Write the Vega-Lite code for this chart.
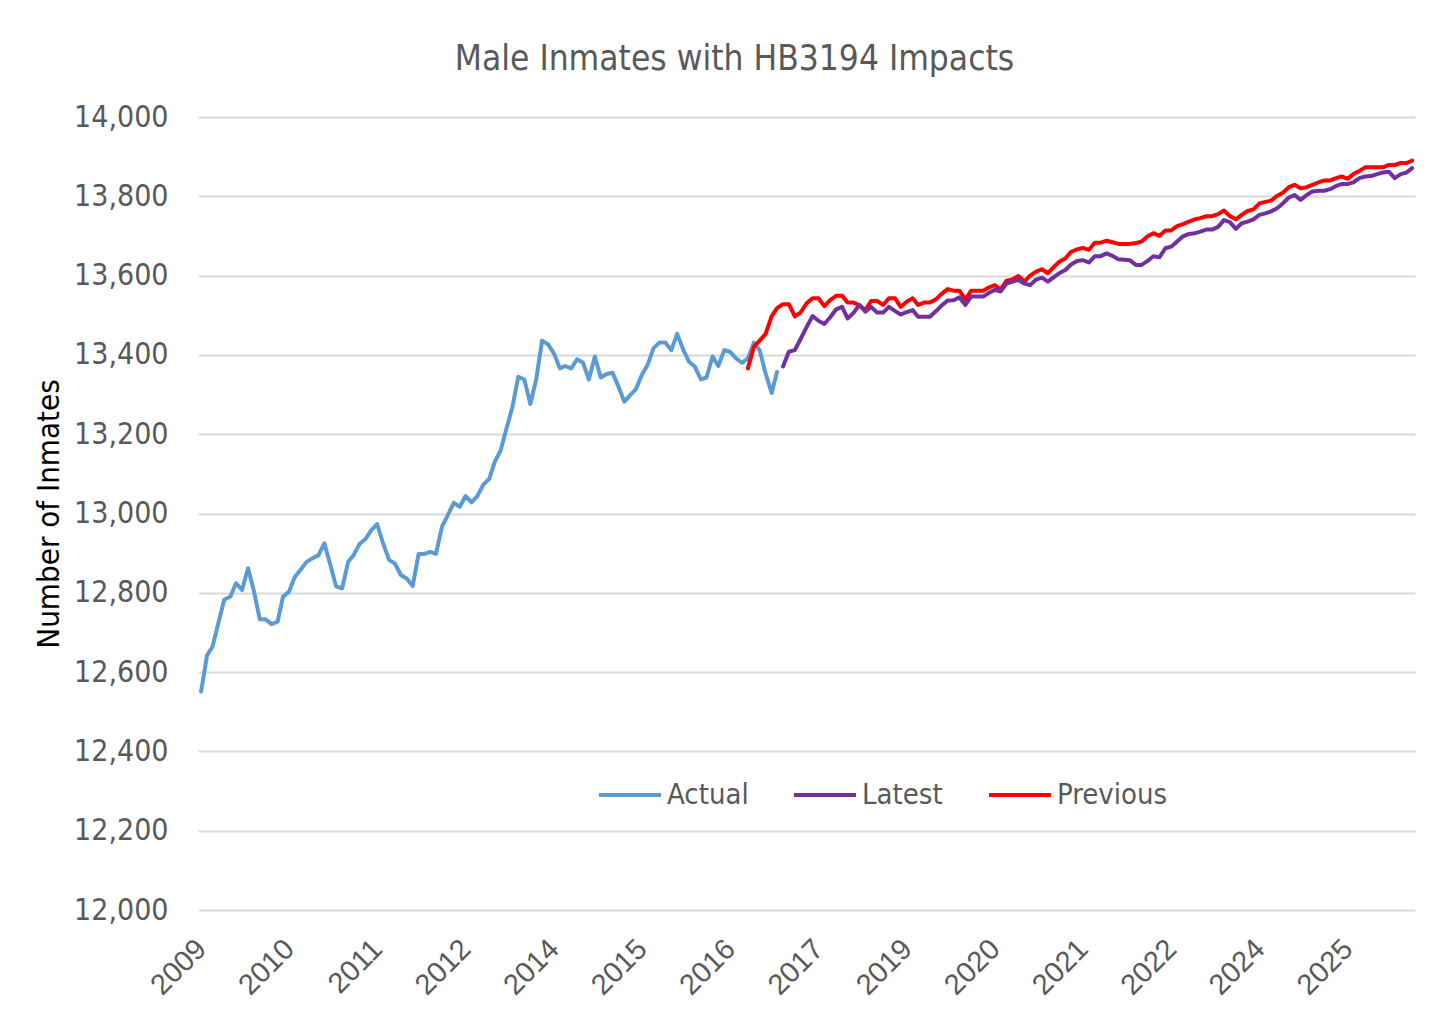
{
  "$schema": "https://vega.github.io/schema/vega-lite/v6.json",
  "width": 1217,
  "height": 793,
  "autosize": {"type": "none"},
  "padding": {"left": 198, "top": 117, "right": 41, "bottom": 123},
  "background": "white",
  "title": {
    "text": "Male Inmates with HB3194 Impacts",
    "font": "DejaVu Sans Condensed, sans-serif",
    "fontSize": 35,
    "fontWeight": "normal",
    "color": "#595959",
    "anchor": "middle",
    "frame": "group",
    "dx": -72,
    "dy": 48,
    "baseline": "bottom",
    "offset": 38
  },
  "config": {
    "view": {"stroke": null},
    "axis": {"domain": false, "ticks": false, "tickSize": 0}
  },
  "data": {
    "values": [
      {"date": "2009-01-01", "series": "Actual", "value": 12551},
      {"date": "2009-02-01", "series": "Actual", "value": 12643},
      {"date": "2009-03-01", "series": "Actual", "value": 12664},
      {"date": "2009-04-01", "series": "Actual", "value": 12725},
      {"date": "2009-05-01", "series": "Actual", "value": 12783},
      {"date": "2009-06-01", "series": "Actual", "value": 12790},
      {"date": "2009-07-01", "series": "Actual", "value": 12824},
      {"date": "2009-08-01", "series": "Actual", "value": 12807},
      {"date": "2009-09-01", "series": "Actual", "value": 12862},
      {"date": "2009-10-01", "series": "Actual", "value": 12805},
      {"date": "2009-11-01", "series": "Actual", "value": 12733},
      {"date": "2009-12-01", "series": "Actual", "value": 12733},
      {"date": "2010-01-01", "series": "Actual", "value": 12721},
      {"date": "2010-02-01", "series": "Actual", "value": 12727},
      {"date": "2010-03-01", "series": "Actual", "value": 12790},
      {"date": "2010-04-01", "series": "Actual", "value": 12803},
      {"date": "2010-05-01", "series": "Actual", "value": 12840},
      {"date": "2010-06-01", "series": "Actual", "value": 12859},
      {"date": "2010-07-01", "series": "Actual", "value": 12878},
      {"date": "2010-08-01", "series": "Actual", "value": 12887},
      {"date": "2010-09-01", "series": "Actual", "value": 12895},
      {"date": "2010-10-01", "series": "Actual", "value": 12925},
      {"date": "2010-11-01", "series": "Actual", "value": 12870},
      {"date": "2010-12-01", "series": "Actual", "value": 12816},
      {"date": "2011-01-01", "series": "Actual", "value": 12811},
      {"date": "2011-02-01", "series": "Actual", "value": 12878},
      {"date": "2011-03-01", "series": "Actual", "value": 12895},
      {"date": "2011-04-01", "series": "Actual", "value": 12923},
      {"date": "2011-05-01", "series": "Actual", "value": 12935},
      {"date": "2011-06-01", "series": "Actual", "value": 12958},
      {"date": "2011-07-01", "series": "Actual", "value": 12973},
      {"date": "2011-08-01", "series": "Actual", "value": 12925},
      {"date": "2011-09-01", "series": "Actual", "value": 12883},
      {"date": "2011-10-01", "series": "Actual", "value": 12874},
      {"date": "2011-11-01", "series": "Actual", "value": 12845},
      {"date": "2011-12-01", "series": "Actual", "value": 12836},
      {"date": "2012-01-01", "series": "Actual", "value": 12817},
      {"date": "2012-02-01", "series": "Actual", "value": 12898},
      {"date": "2012-03-01", "series": "Actual", "value": 12898},
      {"date": "2012-04-01", "series": "Actual", "value": 12903},
      {"date": "2012-05-01", "series": "Actual", "value": 12898},
      {"date": "2012-06-01", "series": "Actual", "value": 12967},
      {"date": "2012-07-01", "series": "Actual", "value": 12996},
      {"date": "2012-08-01", "series": "Actual", "value": 13027},
      {"date": "2012-09-01", "series": "Actual", "value": 13017},
      {"date": "2012-10-01", "series": "Actual", "value": 13044},
      {"date": "2012-11-01", "series": "Actual", "value": 13028},
      {"date": "2012-12-01", "series": "Actual", "value": 13044},
      {"date": "2013-01-01", "series": "Actual", "value": 13073},
      {"date": "2013-02-01", "series": "Actual", "value": 13088},
      {"date": "2013-03-01", "series": "Actual", "value": 13130},
      {"date": "2013-04-01", "series": "Actual", "value": 13160},
      {"date": "2013-05-01", "series": "Actual", "value": 13215},
      {"date": "2013-06-01", "series": "Actual", "value": 13270},
      {"date": "2013-07-01", "series": "Actual", "value": 13345},
      {"date": "2013-08-01", "series": "Actual", "value": 13338},
      {"date": "2013-09-01", "series": "Actual", "value": 13276},
      {"date": "2013-10-01", "series": "Actual", "value": 13337},
      {"date": "2013-11-01", "series": "Actual", "value": 13436},
      {"date": "2013-12-01", "series": "Actual", "value": 13427},
      {"date": "2014-01-01", "series": "Actual", "value": 13404},
      {"date": "2014-02-01", "series": "Actual", "value": 13366},
      {"date": "2014-03-01", "series": "Actual", "value": 13372},
      {"date": "2014-04-01", "series": "Actual", "value": 13366},
      {"date": "2014-05-01", "series": "Actual", "value": 13389},
      {"date": "2014-06-01", "series": "Actual", "value": 13380},
      {"date": "2014-07-01", "series": "Actual", "value": 13338},
      {"date": "2014-08-01", "series": "Actual", "value": 13396},
      {"date": "2014-09-01", "series": "Actual", "value": 13343},
      {"date": "2014-10-01", "series": "Actual", "value": 13352},
      {"date": "2014-11-01", "series": "Actual", "value": 13355},
      {"date": "2014-12-01", "series": "Actual", "value": 13320},
      {"date": "2015-01-01", "series": "Actual", "value": 13282},
      {"date": "2015-02-01", "series": "Actual", "value": 13299},
      {"date": "2015-03-01", "series": "Actual", "value": 13313},
      {"date": "2015-04-01", "series": "Actual", "value": 13349},
      {"date": "2015-05-01", "series": "Actual", "value": 13375},
      {"date": "2015-06-01", "series": "Actual", "value": 13417},
      {"date": "2015-07-01", "series": "Actual", "value": 13431},
      {"date": "2015-08-01", "series": "Actual", "value": 13431},
      {"date": "2015-09-01", "series": "Actual", "value": 13412},
      {"date": "2015-10-01", "series": "Actual", "value": 13453},
      {"date": "2015-11-01", "series": "Actual", "value": 13414},
      {"date": "2015-12-01", "series": "Actual", "value": 13383},
      {"date": "2016-01-01", "series": "Actual", "value": 13370},
      {"date": "2016-02-01", "series": "Actual", "value": 13338},
      {"date": "2016-03-01", "series": "Actual", "value": 13343},
      {"date": "2016-04-01", "series": "Actual", "value": 13396},
      {"date": "2016-05-01", "series": "Actual", "value": 13372},
      {"date": "2016-06-01", "series": "Actual", "value": 13412},
      {"date": "2016-07-01", "series": "Actual", "value": 13408},
      {"date": "2016-08-01", "series": "Actual", "value": 13391},
      {"date": "2016-09-01", "series": "Actual", "value": 13380},
      {"date": "2016-10-01", "series": "Actual", "value": 13391},
      {"date": "2016-11-01", "series": "Actual", "value": 13431},
      {"date": "2016-12-01", "series": "Actual", "value": 13412},
      {"date": "2017-01-01", "series": "Actual", "value": 13353},
      {"date": "2017-02-01", "series": "Actual", "value": 13304},
      {"date": "2017-03-01", "series": "Actual", "value": 13357},

      {"date": "2016-10-01", "series": "Previous", "value": 13366},
      {"date": "2016-11-01", "series": "Previous", "value": 13420},
      {"date": "2016-12-01", "series": "Previous", "value": 13436},
      {"date": "2017-01-01", "series": "Previous", "value": 13453},
      {"date": "2017-02-01", "series": "Previous", "value": 13497},
      {"date": "2017-03-01", "series": "Previous", "value": 13518},
      {"date": "2017-04-01", "series": "Previous", "value": 13528},
      {"date": "2017-05-01", "series": "Previous", "value": 13528},
      {"date": "2017-06-01", "series": "Previous", "value": 13497},
      {"date": "2017-07-01", "series": "Previous", "value": 13507},
      {"date": "2017-08-01", "series": "Previous", "value": 13530},
      {"date": "2017-09-01", "series": "Previous", "value": 13543},
      {"date": "2017-10-01", "series": "Previous", "value": 13543},
      {"date": "2017-11-01", "series": "Previous", "value": 13523},
      {"date": "2017-12-01", "series": "Previous", "value": 13538},
      {"date": "2018-01-01", "series": "Previous", "value": 13549},
      {"date": "2018-02-01", "series": "Previous", "value": 13549},
      {"date": "2018-03-01", "series": "Previous", "value": 13532},
      {"date": "2018-04-01", "series": "Previous", "value": 13532},
      {"date": "2018-05-01", "series": "Previous", "value": 13525},
      {"date": "2018-06-01", "series": "Previous", "value": 13513},
      {"date": "2018-07-01", "series": "Previous", "value": 13536},
      {"date": "2018-08-01", "series": "Previous", "value": 13536},
      {"date": "2018-09-01", "series": "Previous", "value": 13526},
      {"date": "2018-10-01", "series": "Previous", "value": 13543},
      {"date": "2018-11-01", "series": "Previous", "value": 13543},
      {"date": "2018-12-01", "series": "Previous", "value": 13521},
      {"date": "2019-01-01", "series": "Previous", "value": 13534},
      {"date": "2019-02-01", "series": "Previous", "value": 13543},
      {"date": "2019-03-01", "series": "Previous", "value": 13526},
      {"date": "2019-04-01", "series": "Previous", "value": 13532},
      {"date": "2019-05-01", "series": "Previous", "value": 13532},
      {"date": "2019-06-01", "series": "Previous", "value": 13540},
      {"date": "2019-07-01", "series": "Previous", "value": 13554},
      {"date": "2019-08-01", "series": "Previous", "value": 13566},
      {"date": "2019-09-01", "series": "Previous", "value": 13562},
      {"date": "2019-10-01", "series": "Previous", "value": 13562},
      {"date": "2019-11-01", "series": "Previous", "value": 13540},
      {"date": "2019-12-01", "series": "Previous", "value": 13562},
      {"date": "2020-01-01", "series": "Previous", "value": 13562},
      {"date": "2020-02-01", "series": "Previous", "value": 13562},
      {"date": "2020-03-01", "series": "Previous", "value": 13570},
      {"date": "2020-04-01", "series": "Previous", "value": 13576},
      {"date": "2020-05-01", "series": "Previous", "value": 13565},
      {"date": "2020-06-01", "series": "Previous", "value": 13587},
      {"date": "2020-07-01", "series": "Previous", "value": 13590},
      {"date": "2020-08-01", "series": "Previous", "value": 13599},
      {"date": "2020-09-01", "series": "Previous", "value": 13585},
      {"date": "2020-10-01", "series": "Previous", "value": 13600},
      {"date": "2020-11-01", "series": "Previous", "value": 13610},
      {"date": "2020-12-01", "series": "Previous", "value": 13616},
      {"date": "2021-01-01", "series": "Previous", "value": 13606},
      {"date": "2021-02-01", "series": "Previous", "value": 13622},
      {"date": "2021-03-01", "series": "Previous", "value": 13635},
      {"date": "2021-04-01", "series": "Previous", "value": 13643},
      {"date": "2021-05-01", "series": "Previous", "value": 13660},
      {"date": "2021-06-01", "series": "Previous", "value": 13666},
      {"date": "2021-07-01", "series": "Previous", "value": 13670},
      {"date": "2021-08-01", "series": "Previous", "value": 13665},
      {"date": "2021-09-01", "series": "Previous", "value": 13683},
      {"date": "2021-10-01", "series": "Previous", "value": 13683},
      {"date": "2021-11-01", "series": "Previous", "value": 13688},
      {"date": "2021-12-01", "series": "Previous", "value": 13684},
      {"date": "2022-01-01", "series": "Previous", "value": 13680},
      {"date": "2022-02-01", "series": "Previous", "value": 13680},
      {"date": "2022-03-01", "series": "Previous", "value": 13680},
      {"date": "2022-04-01", "series": "Previous", "value": 13682},
      {"date": "2022-05-01", "series": "Previous", "value": 13686},
      {"date": "2022-06-01", "series": "Previous", "value": 13699},
      {"date": "2022-07-01", "series": "Previous", "value": 13707},
      {"date": "2022-08-01", "series": "Previous", "value": 13700},
      {"date": "2022-09-01", "series": "Previous", "value": 13714},
      {"date": "2022-10-01", "series": "Previous", "value": 13714},
      {"date": "2022-11-01", "series": "Previous", "value": 13725},
      {"date": "2022-12-01", "series": "Previous", "value": 13730},
      {"date": "2023-01-01", "series": "Previous", "value": 13736},
      {"date": "2023-02-01", "series": "Previous", "value": 13742},
      {"date": "2023-03-01", "series": "Previous", "value": 13745},
      {"date": "2023-04-01", "series": "Previous", "value": 13750},
      {"date": "2023-05-01", "series": "Previous", "value": 13750},
      {"date": "2023-06-01", "series": "Previous", "value": 13755},
      {"date": "2023-07-01", "series": "Previous", "value": 13764},
      {"date": "2023-08-01", "series": "Previous", "value": 13750},
      {"date": "2023-09-01", "series": "Previous", "value": 13742},
      {"date": "2023-10-01", "series": "Previous", "value": 13753},
      {"date": "2023-11-01", "series": "Previous", "value": 13763},
      {"date": "2023-12-01", "series": "Previous", "value": 13767},
      {"date": "2024-01-01", "series": "Previous", "value": 13782},
      {"date": "2024-02-01", "series": "Previous", "value": 13786},
      {"date": "2024-03-01", "series": "Previous", "value": 13789},
      {"date": "2024-04-01", "series": "Previous", "value": 13801},
      {"date": "2024-05-01", "series": "Previous", "value": 13809},
      {"date": "2024-06-01", "series": "Previous", "value": 13823},
      {"date": "2024-07-01", "series": "Previous", "value": 13829},
      {"date": "2024-08-01", "series": "Previous", "value": 13820},
      {"date": "2024-09-01", "series": "Previous", "value": 13823},
      {"date": "2024-10-01", "series": "Previous", "value": 13829},
      {"date": "2024-11-01", "series": "Previous", "value": 13835},
      {"date": "2024-12-01", "series": "Previous", "value": 13840},
      {"date": "2025-01-01", "series": "Previous", "value": 13840},
      {"date": "2025-02-01", "series": "Previous", "value": 13846},
      {"date": "2025-03-01", "series": "Previous", "value": 13850},
      {"date": "2025-04-01", "series": "Previous", "value": 13844},
      {"date": "2025-05-01", "series": "Previous", "value": 13856},
      {"date": "2025-06-01", "series": "Previous", "value": 13864},
      {"date": "2025-07-01", "series": "Previous", "value": 13873},
      {"date": "2025-08-01", "series": "Previous", "value": 13873},
      {"date": "2025-09-01", "series": "Previous", "value": 13873},
      {"date": "2025-10-01", "series": "Previous", "value": 13873},
      {"date": "2025-11-01", "series": "Previous", "value": 13879},
      {"date": "2025-12-01", "series": "Previous", "value": 13879},
      {"date": "2026-01-01", "series": "Previous", "value": 13884},
      {"date": "2026-02-01", "series": "Previous", "value": 13884},
      {"date": "2026-03-01", "series": "Previous", "value": 13890},

      {"date": "2017-04-01", "series": "Latest", "value": 13371},
      {"date": "2017-05-01", "series": "Latest", "value": 13408},
      {"date": "2017-06-01", "series": "Latest", "value": 13412},
      {"date": "2017-07-01", "series": "Latest", "value": 13440},
      {"date": "2017-08-01", "series": "Latest", "value": 13470},
      {"date": "2017-09-01", "series": "Latest", "value": 13498},
      {"date": "2017-10-01", "series": "Latest", "value": 13486},
      {"date": "2017-11-01", "series": "Latest", "value": 13478},
      {"date": "2017-12-01", "series": "Latest", "value": 13495},
      {"date": "2018-01-01", "series": "Latest", "value": 13515},
      {"date": "2018-02-01", "series": "Latest", "value": 13521},
      {"date": "2018-03-01", "series": "Latest", "value": 13492},
      {"date": "2018-04-01", "series": "Latest", "value": 13506},
      {"date": "2018-05-01", "series": "Latest", "value": 13526},
      {"date": "2018-06-01", "series": "Latest", "value": 13509},
      {"date": "2018-07-01", "series": "Latest", "value": 13521},
      {"date": "2018-08-01", "series": "Latest", "value": 13507},
      {"date": "2018-09-01", "series": "Latest", "value": 13507},
      {"date": "2018-10-01", "series": "Latest", "value": 13521},
      {"date": "2018-11-01", "series": "Latest", "value": 13511},
      {"date": "2018-12-01", "series": "Latest", "value": 13502},
      {"date": "2019-01-01", "series": "Latest", "value": 13508},
      {"date": "2019-02-01", "series": "Latest", "value": 13513},
      {"date": "2019-03-01", "series": "Latest", "value": 13496},
      {"date": "2019-04-01", "series": "Latest", "value": 13496},
      {"date": "2019-05-01", "series": "Latest", "value": 13496},
      {"date": "2019-06-01", "series": "Latest", "value": 13510},
      {"date": "2019-07-01", "series": "Latest", "value": 13525},
      {"date": "2019-08-01", "series": "Latest", "value": 13537},
      {"date": "2019-09-01", "series": "Latest", "value": 13538},
      {"date": "2019-10-01", "series": "Latest", "value": 13545},
      {"date": "2019-11-01", "series": "Latest", "value": 13526},
      {"date": "2019-12-01", "series": "Latest", "value": 13547},
      {"date": "2020-01-01", "series": "Latest", "value": 13547},
      {"date": "2020-02-01", "series": "Latest", "value": 13547},
      {"date": "2020-03-01", "series": "Latest", "value": 13556},
      {"date": "2020-04-01", "series": "Latest", "value": 13564},
      {"date": "2020-05-01", "series": "Latest", "value": 13560},
      {"date": "2020-06-01", "series": "Latest", "value": 13580},
      {"date": "2020-07-01", "series": "Latest", "value": 13585},
      {"date": "2020-08-01", "series": "Latest", "value": 13589},
      {"date": "2020-09-01", "series": "Latest", "value": 13580},
      {"date": "2020-10-01", "series": "Latest", "value": 13576},
      {"date": "2020-11-01", "series": "Latest", "value": 13590},
      {"date": "2020-12-01", "series": "Latest", "value": 13595},
      {"date": "2021-01-01", "series": "Latest", "value": 13585},
      {"date": "2021-02-01", "series": "Latest", "value": 13596},
      {"date": "2021-03-01", "series": "Latest", "value": 13606},
      {"date": "2021-04-01", "series": "Latest", "value": 13614},
      {"date": "2021-05-01", "series": "Latest", "value": 13628},
      {"date": "2021-06-01", "series": "Latest", "value": 13637},
      {"date": "2021-07-01", "series": "Latest", "value": 13639},
      {"date": "2021-08-01", "series": "Latest", "value": 13633},
      {"date": "2021-09-01", "series": "Latest", "value": 13649},
      {"date": "2021-10-01", "series": "Latest", "value": 13649},
      {"date": "2021-11-01", "series": "Latest", "value": 13656},
      {"date": "2021-12-01", "series": "Latest", "value": 13650},
      {"date": "2022-01-01", "series": "Latest", "value": 13641},
      {"date": "2022-02-01", "series": "Latest", "value": 13640},
      {"date": "2022-03-01", "series": "Latest", "value": 13639},
      {"date": "2022-04-01", "series": "Latest", "value": 13627},
      {"date": "2022-05-01", "series": "Latest", "value": 13627},
      {"date": "2022-06-01", "series": "Latest", "value": 13637},
      {"date": "2022-07-01", "series": "Latest", "value": 13649},
      {"date": "2022-08-01", "series": "Latest", "value": 13646},
      {"date": "2022-09-01", "series": "Latest", "value": 13669},
      {"date": "2022-10-01", "series": "Latest", "value": 13673},
      {"date": "2022-11-01", "series": "Latest", "value": 13686},
      {"date": "2022-12-01", "series": "Latest", "value": 13699},
      {"date": "2023-01-01", "series": "Latest", "value": 13705},
      {"date": "2023-02-01", "series": "Latest", "value": 13707},
      {"date": "2023-03-01", "series": "Latest", "value": 13711},
      {"date": "2023-04-01", "series": "Latest", "value": 13716},
      {"date": "2023-05-01", "series": "Latest", "value": 13716},
      {"date": "2023-06-01", "series": "Latest", "value": 13723},
      {"date": "2023-07-01", "series": "Latest", "value": 13740},
      {"date": "2023-08-01", "series": "Latest", "value": 13735},
      {"date": "2023-09-01", "series": "Latest", "value": 13718},
      {"date": "2023-10-01", "series": "Latest", "value": 13732},
      {"date": "2023-11-01", "series": "Latest", "value": 13736},
      {"date": "2023-12-01", "series": "Latest", "value": 13742},
      {"date": "2024-01-01", "series": "Latest", "value": 13753},
      {"date": "2024-02-01", "series": "Latest", "value": 13757},
      {"date": "2024-03-01", "series": "Latest", "value": 13762},
      {"date": "2024-04-01", "series": "Latest", "value": 13770},
      {"date": "2024-05-01", "series": "Latest", "value": 13782},
      {"date": "2024-06-01", "series": "Latest", "value": 13797},
      {"date": "2024-07-01", "series": "Latest", "value": 13803},
      {"date": "2024-08-01", "series": "Latest", "value": 13791},
      {"date": "2024-09-01", "series": "Latest", "value": 13803},
      {"date": "2024-10-01", "series": "Latest", "value": 13812},
      {"date": "2024-11-01", "series": "Latest", "value": 13814},
      {"date": "2024-12-01", "series": "Latest", "value": 13814},
      {"date": "2025-01-01", "series": "Latest", "value": 13818},
      {"date": "2025-02-01", "series": "Latest", "value": 13826},
      {"date": "2025-03-01", "series": "Latest", "value": 13831},
      {"date": "2025-04-01", "series": "Latest", "value": 13831},
      {"date": "2025-05-01", "series": "Latest", "value": 13835},
      {"date": "2025-06-01", "series": "Latest", "value": 13846},
      {"date": "2025-07-01", "series": "Latest", "value": 13850},
      {"date": "2025-08-01", "series": "Latest", "value": 13851},
      {"date": "2025-09-01", "series": "Latest", "value": 13856},
      {"date": "2025-10-01", "series": "Latest", "value": 13860},
      {"date": "2025-11-01", "series": "Latest", "value": 13862},
      {"date": "2025-12-01", "series": "Latest", "value": 13846},
      {"date": "2026-01-01", "series": "Latest", "value": 13856},
      {"date": "2026-02-01", "series": "Latest", "value": 13860},
      {"date": "2026-03-01", "series": "Latest", "value": 13871}
    ]
  },
  "mark": {"type": "line", "strokeWidth": 4, "strokeJoin": "round", "strokeCap": "round"},
  "encoding": {
    "x": {
      "field": "date",
      "type": "temporal",
      "scale": {
        "type": "utc",
        "domain": [
          {"year": 2008, "month": 12, "date": 16, "utc": true},
          {"year": 2026, "month": 3, "date": 16, "utc": true}
        ]
      },
      "axis": {
        "title": null,
        "grid": false,
        "values": [
          {"year": 2009, "month": 1, "date": 1, "utc": true},
          {"year": 2010, "month": 4, "date": 1, "utc": true},
          {"year": 2011, "month": 7, "date": 1, "utc": true},
          {"year": 2012, "month": 10, "date": 1, "utc": true},
          {"year": 2014, "month": 1, "date": 1, "utc": true},
          {"year": 2015, "month": 4, "date": 1, "utc": true},
          {"year": 2016, "month": 7, "date": 1, "utc": true},
          {"year": 2017, "month": 10, "date": 1, "utc": true},
          {"year": 2019, "month": 1, "date": 1, "utc": true},
          {"year": 2020, "month": 4, "date": 1, "utc": true},
          {"year": 2021, "month": 7, "date": 1, "utc": true},
          {"year": 2022, "month": 10, "date": 1, "utc": true},
          {"year": 2024, "month": 1, "date": 1, "utc": true},
          {"year": 2025, "month": 4, "date": 1, "utc": true}
        ],
        "labelExpr": "utcFormat(datum.value, '%Y')",
        "labelAngle": -45,
        "labelAlign": "right",
        "labelBaseline": "middle",
        "labelPadding": 34,
        "labelFont": "Liberation Sans, Arial, sans-serif",
        "labelFontSize": 29,
        "labelColor": "#595959",
        "labelOverlap": false,
        "labelFlush": false
      }
    },
    "y": {
      "field": "value",
      "type": "quantitative",
      "scale": {"domain": [12000, 14000], "nice": false, "zero": false},
      "axis": {
        "title": "Number of Inmates",
        "titleFont": "DejaVu Sans Condensed, sans-serif",
        "titleFontSize": 31,
        "titleFontWeight": "normal",
        "titleColor": "#000000",
        "titleX": -149,
        "titleBaseline": "middle",
        "values": [12000, 12200, 12400, 12600, 12800, 13000, 13200, 13400, 13600, 13800, 14000],
        "format": ",.0f",
        "labelFont": "DejaVu Sans Condensed, sans-serif",
        "labelFontSize": 30,
        "labelColor": "#595959",
        "labelPadding": 30,
        "gridColor": "#d9d9d9",
        "gridWidth": 2
      }
    },
    "color": {
      "field": "series",
      "type": "nominal",
      "scale": {"domain": ["Actual", "Latest", "Previous"], "range": ["#5B9BD5", "#7030A0", "#FF0000"]},
      "legend": {
        "title": null,
        "orient": "none",
        "direction": "horizontal",
        "legendX": 399,
        "legendY": 645,
        "symbolType": "stroke",
        "symbolSize": 3844,
        "symbolStrokeWidth": 4,
        "labelFont": "DejaVu Sans Condensed, sans-serif",
        "labelFontSize": 29,
        "labelColor": "#595959",
        "labelOffset": 4,
        "gridAlign": "all",
        "columnPadding": 8,
        "padding": 0
      }
    }
  }
}
